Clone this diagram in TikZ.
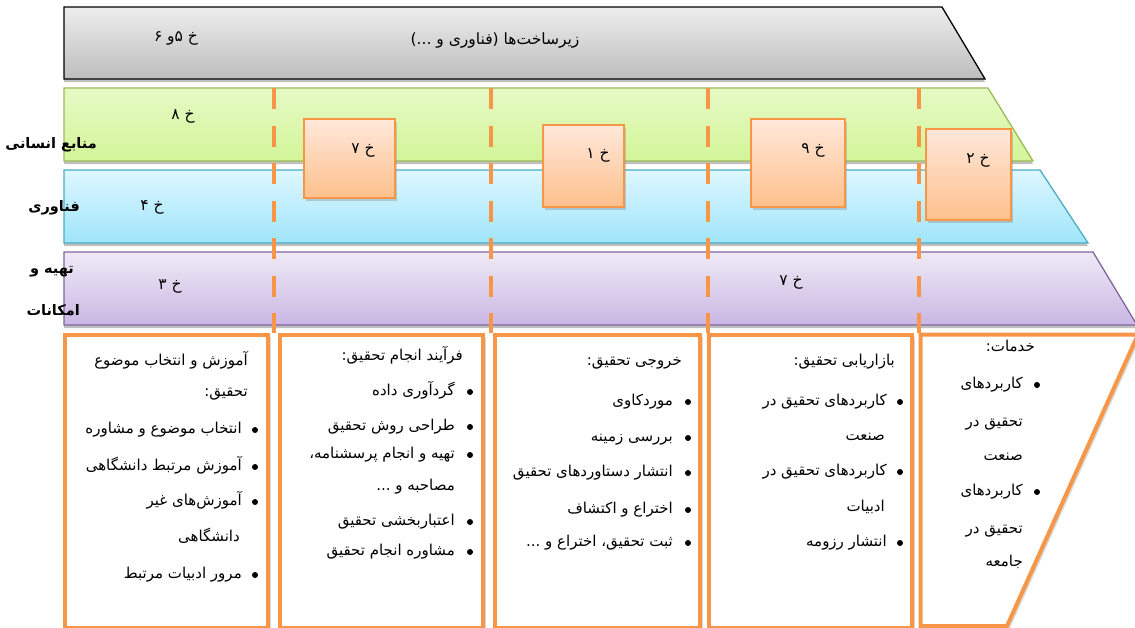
\documentclass[tikz,border=0pt]{standalone}
\usepackage{fontspec}
\usetikzlibrary{shadows}
\TeXXeTstate=1
\newfontfamily\arfont[Script=Arabic]{DejaVu Sans}
\newcommand\RL[1]{\beginR #1\endR}
\definecolor{orng}{HTML}{F79646}
\definecolor{sqtop}{HTML}{FFE8DA}
\definecolor{sqbot}{HTML}{FDC08C}
\definecolor{grnline}{HTML}{9BBB59}
\definecolor{grntop}{HTML}{E6F9C6}
\definecolor{grnbot}{HTML}{D3F598}
\definecolor{bluline}{HTML}{4BACC6}
\definecolor{blutop}{HTML}{DEF7FF}
\definecolor{blubot}{HTML}{9FE5FA}
\definecolor{purline}{HTML}{8064A2}
\definecolor{purtop}{HTML}{EFEAF6}
\definecolor{purbot}{HTML}{CAB7E3}
\definecolor{grytop}{HTML}{EDEDED}
\definecolor{grybot}{HTML}{BDBDBD}
\tikzset{
  bandshadow/.style={drop shadow={shadow xshift=0pt,shadow yshift=-3pt,opacity=0.35,fill=black!70}},
  band/.style={line width=1.3pt, bandshadow},
  dashline/.style={orng, line width=4pt, dash pattern=on 21pt off 16.5pt},
  sq/.style={draw=orng, line width=2pt, top color=sqtop, bottom color=sqbot,
    drop shadow={shadow xshift=2pt,shadow yshift=-3pt,opacity=0.35}},
  colbox/.style={draw=orng, line width=4pt, fill=white,
    drop shadow={shadow xshift=3pt,shadow yshift=-2pt,opacity=0.3}},
  txt/.style={font=\arfont\fontsize{15}{17}\selectfont, inner sep=0pt, text height=11pt, text depth=4pt},
  lbl/.style={font=\arfont\fontsize{15.5}{17}\selectfont, inner sep=0pt},
  side/.style={font=\arfont\bfseries\fontsize{14.5}{17}\selectfont, inner sep=0pt, anchor=east},
  dot/.style={circle, fill=black, inner sep=0pt, minimum size=6pt},
}
\begin{document}
\begin{tikzpicture}[x=1pt,y=1pt]
\clip (0,0) rectangle (1135,-627);
\fill[white] (0,0) rectangle (1135,-627);
% bands
\path[band, draw=black, top color=grytop, bottom color=grybot]
  (64,-7) -- (942,-7) -- (985,-79) -- (64,-79) -- cycle;
\path[band, draw=grnline, top color=grntop, bottom color=grnbot]
  (64,-88) -- (988,-88) -- (1033,-161) -- (64,-161) -- cycle;
\path[band, draw=bluline, top color=blutop, bottom color=blubot]
  (64,-170) -- (1040,-170) -- (1088,-243) -- (64,-243) -- cycle;
\path[band, draw=purline, top color=purtop, bottom color=purbot]
  (64,-252) -- (1093,-252) -- (1137,-325) -- (64,-325) -- cycle;
% band texts
\node[lbl] (topnum) at (176,-38) {\RL{خ ۵و ۶}};
\node[lbl] (toptxt) at (495,-41) {\RL{زیرساخت‌ها (فناوری و ...)}};
\node[lbl] (g8) at (183,-116) {\RL{خ ۸}};
\node[lbl] (b4) at (152,-207) {\RL{خ ۴}};
\node[lbl] (p3) at (170,-286) {\RL{خ ۳}};
\node[lbl] (p7) at (791,-282) {\RL{خ ۷}};
% side labels
\node[side] (sl1) at (97,-145) {\RL{منابع انسانی}};
\node[side] (sl2) at (80,-208) {\RL{فناوری}};
\node[side] (sl3) at (74,-272) {\RL{تهیه و}};
\node[side] (sl4) at (80,-310) {\RL{امکانات}};
% dashed separators
\coordinate (d1t) at (274,-88);  \coordinate (d1b) at (274,-333);
\coordinate (d2t) at (491,-88);  \coordinate (d2b) at (491,-333);
\coordinate (d3t) at (708,-88);  \coordinate (d3b) at (708,-333);
\coordinate (d4t) at (919,-88);  \coordinate (d4b) at (919,-333);
\draw[dashline] (d1t) -- (d1b);
\draw[dashline] (d2t) -- (d2b);
\draw[dashline] (d3t) -- (d3b);
\draw[dashline] (d4t) -- (d4b);
% squares
\path[sq] (304,-119) rectangle (395,-198);
\path[sq] (543,-125) rectangle (624,-207);
\path[sq] (751,-119) rectangle (845,-207);
\path[sq] (926,-129) rectangle (1011,-220);
\node[lbl] (s7) at (363,-150) {\RL{خ ۷}};
\node[lbl] (s1) at (598,-155) {\RL{خ ۱}};
\node[lbl] (s9) at (813,-150) {\RL{خ ۹}};
\node[lbl] (s2) at (978,-160) {\RL{خ ۲}};
% bottom boxes
\path[colbox] (64.5,-334.5) rectangle (267.5,-628);
\path[colbox] (279.5,-334.5) rectangle (482.5,-628);
\path[colbox] (495,-334.5) rectangle (699.5,-628);
\path[colbox] (708.5,-334.5) rectangle (911.5,-628);
\path[colbox] (920.5,-334.5) -- (1138,-334.5) -- (1007,-626) -- (920.5,-626) -- cycle;
% box 1
\node[txt, anchor=east] (a0) at (248,-362) {\RL{آموزش و انتخاب موضوع}};
\node[txt, anchor=east] (a1) at (248,-393) {\RL{تحقیق:}};
\node[dot] (ad1) at (255,-430) {};
\node[txt, anchor=east] (a2) at (242,-430) {\RL{انتخاب موضوع و مشاوره}};
\node[dot] (ad2) at (255,-467) {};
\node[txt, anchor=east] (a3) at (242,-467) {\RL{آموزش مرتبط دانشگاهی}};
\node[dot] (ad3) at (255,-502) {};
\node[txt, anchor=east] (a4) at (242,-502) {\RL{آموزش‌های غیر}};
\node[txt, anchor=east] (a5) at (240,-538) {\RL{دانشگاهی}};
\node[dot] (ad4) at (255,-575) {};
\node[txt, anchor=east] (a6) at (242,-575) {\RL{مرور ادبیات مرتبط}};
% box 2
\node[txt, anchor=east] (b0) at (463,-357) {\RL{فرآیند انجام تحقیق:}};
\node[dot] (bd1) at (470,-392) {};
\node[txt, anchor=east] (b1) at (455,-392) {\RL{گردآوری داده}};
\node[dot] (bd2) at (470,-427) {};
\node[txt, anchor=east] (b2) at (455,-427) {\RL{طراحی روش تحقیق}};
\node[dot] (bd3) at (470,-455) {};
\node[txt, anchor=east] (b3) at (455,-455) {\RL{تهیه و انجام پرسشنامه،}};
\node[txt, anchor=east] (b4t) at (455,-487) {\RL{مصاحبه و ...}};
\node[dot] (bd4) at (470,-522) {};
\node[txt, anchor=east] (b5) at (455,-522) {\RL{اعتباربخشی تحقیق}};
\node[dot] (bd5) at (470,-552) {};
\node[txt, anchor=east] (b6) at (455,-552) {\RL{مشاوره انجام تحقیق}};
% box 3
\node[txt, anchor=east] (c0) at (682,-362) {\RL{خروجی تحقیق:}};
\node[dot] (cd1) at (688,-402) {};
\node[txt, anchor=east] (c1) at (673,-402) {\RL{موردکاوی}};
\node[dot] (cd2) at (688,-438) {};
\node[txt, anchor=east] (c2) at (673,-438) {\RL{بررسی زمینه}};
\node[dot] (cd3) at (688,-473) {};
\node[txt, anchor=east] (c3) at (673,-473) {\RL{انتشار دستاوردهای تحقیق}};
\node[dot] (cd4) at (688,-510) {};
\node[txt, anchor=east] (c4) at (673,-510) {\RL{اختراع و اکتشاف}};
\node[dot] (cd5) at (688,-543) {};
\node[txt, anchor=east] (c5) at (673,-543) {\RL{ثبت تحقیق، اختراع و ...}};
% box 4
\node[txt, anchor=east] (e0) at (895,-362) {\RL{بازاریابی تحقیق:}};
\node[dot] (ed1) at (900,-402) {};
\node[txt, anchor=east] (e1) at (887,-402) {\RL{کاربردهای تحقیق در}};
\node[txt, anchor=east] (e2) at (885,-437) {\RL{صنعت}};
\node[dot] (ed2) at (900,-472) {};
\node[txt, anchor=east] (e3) at (887,-472) {\RL{کاربردهای تحقیق در}};
\node[txt, anchor=east] (e4) at (885,-508) {\RL{ادبیات}};
\node[dot] (ed3) at (900,-543) {};
\node[txt, anchor=east] (e5) at (887,-543) {\RL{انتشار رزومه}};
% box 5
\node[txt, anchor=east] (f0) at (1035,-348) {\RL{خدمات:}};
\node[dot] (fd1) at (1037,-385) {};
\node[txt, anchor=east] (f1) at (1023,-385) {\RL{کاربردهای}};
\node[txt, anchor=east] (f2) at (1023,-423) {\RL{تحقیق در}};
\node[txt, anchor=east] (f3) at (1023,-457) {\RL{صنعت}};
\node[dot] (fd2) at (1037,-492) {};
\node[txt, anchor=east] (f4) at (1023,-492) {\RL{کاربردهای}};
\node[txt, anchor=east] (f5) at (1023,-530) {\RL{تحقیق در}};
\node[txt, anchor=east] (f6) at (1023,-563) {\RL{جامعه}};
\end{tikzpicture}
\end{document}
